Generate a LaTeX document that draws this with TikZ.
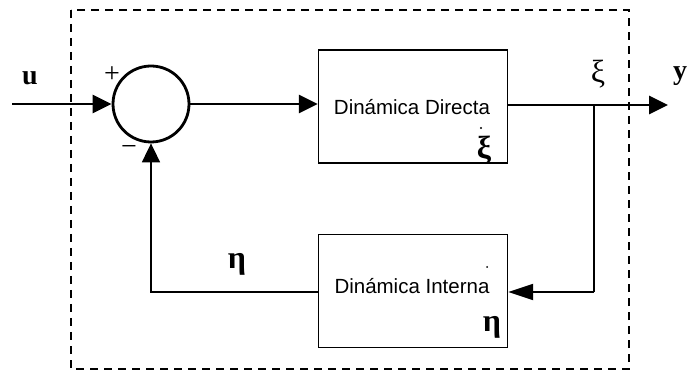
\documentclass[tikz,border=0pt]{standalone}
\usepackage{fontspec}
\setmainfont{Liberation Serif}
\newfontfamily\blockfont{Liberation Sans}
\usetikzlibrary{arrows.meta}
\tikzset{
  thickline/.style={line width=2.8pt},
  thinline/.style={line width=1.8pt},
  bigtip/.style={-{Triangle[length=19pt,width=18pt]}},
  blockbox/.style={draw, line width=1.4pt, minimum width=189pt, minimum height=113pt, inner sep=0pt},
  blocktext/.style={font=\blockfont\fontsize{20.5}{24}\selectfont, inner sep=0pt},
  sig/.style={font=\bfseries\fontsize{28}{30}\selectfont, inner sep=0pt},
  greek/.style={font=\fontsize{32}{34}\selectfont, inner sep=0pt},
  boldgreek/.style={font=\bfseries\fontsize{32}{34}\selectfont, inner sep=0pt},
  sign/.style={font=\fontsize{28}{30}\selectfont, inner sep=0pt}
}
\begin{document}
\begin{tikzpicture}[x=1pt,y=-1pt]
\useasboundingbox (0,0) rectangle (688,371);
% outer dashed frame
\draw[line width=1.5pt, dash pattern=on 8pt off 6pt] (71,10) rectangle (629,369);

% summing junction and blocks
\node[circle, draw, line width=2.8pt, minimum size=76pt, inner sep=0pt] (sum) at (151,104) {};
\node[blockbox] (direct) at (413,106.5) {};
\node[blockbox] (internal) at (413,291) {};
\node[blocktext] (dtext) at (412,107) {Dinámica Directa};
\node[blocktext] (itext) at (412,286) {Dinámica Interna};

% states inside the blocks
\node[boldgreek] (xidot) at (484,150) {ξ};
\fill (481,128) circle (1.2pt);
\node[boldgreek] (etadot) at (492,327) {η};
\fill (487,267) circle (1pt);

% terminals and branch point
\coordinate (uin) at (12,104);
\coordinate (yout) at (668,105);
\coordinate (branch) at (594,105);
\coordinate (fbturn) at (594,292);
\coordinate (fbcorner) at (151,292);

% signal paths
\draw[thickline, bigtip] (uin) -- (sum.west);
\draw[thickline, bigtip] (sum.east) -- (direct.west |- sum.east);
\draw[thickline, bigtip] (direct.east |- yout) -- (yout);
\draw[thinline] (branch) -- (fbturn);
\draw[thinline, -{Triangle[length=25pt,width=16pt]}] (fbturn) -- (internal.east |- fbturn);
\draw[thinline, bigtip] (internal.west |- fbcorner) -- (fbcorner) -- (sum.south);

% labels
\node[sig] (ulabel) at (30,78) {u};
\node[sig, anchor=west] (ylabel) at (673,76) {y};
\node[greek] (xilabel) at (598,74) {ξ};
\node[boldgreek] (etalabel) at (237,264) {η};
\node[sign] (plus) at (112,75) {+};
\node[sign] (minus) at (129,151) {−};
\end{tikzpicture}
\end{document}
